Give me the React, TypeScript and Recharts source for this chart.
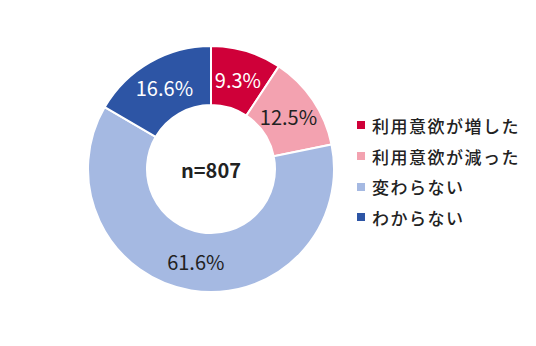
import { PieChart, Pie, Cell, Legend } from "recharts";

const categories = ["利用意欲が増した", "利用意欲が減った", "変わらない", "わからない"];
const shares = [9.3, 12.5, 61.6, 16.6];
const colors = ["#CF0039", "#F3A2B0", "#A5B9E2", "#2D55A5"];
const labelColors = ["#ffffff", "#222222", "#222222", "#ffffff"];
const sampleLabel = "n=807";

const data = categories.map((name, i) => ({ name, value: shares[i] }));

const RAD = Math.PI / 180;

const renderLabel = (props: any) => {
  const { cx, cy, midAngle, innerRadius, outerRadius, index, value } = props;
  const r = (innerRadius + outerRadius) / 2;
  const x = cx + r * Math.cos(-midAngle * RAD);
  const y = cy + r * Math.sin(-midAngle * RAD);
  return (
    <text
      x={x}
      y={y}
      fill={labelColors[index]}
      textAnchor="middle"
      dominantBaseline="central"
      fontSize={20}
      fontFamily="'Noto Sans CJK JP', 'Noto Sans', sans-serif"
    >
      {`${value.toFixed(1)}%`}
    </text>
  );
};

const renderLegend = () => (
  <div style={{ fontFamily: "'Noto Sans CJK JP', sans-serif" }}>
    {categories.map((c, i) => (
      <div key={c} style={{ display: "flex", alignItems: "center", height: 30.7 }}>
        <span style={{ width: 8, height: 8, background: colors[i], marginRight: 7, display: "inline-block" }} />
        <span style={{ fontSize: 17, letterSpacing: 1.5, fontWeight: 500, color: "#222" }}>{c}</span>
      </div>
    ))}
  </div>
);

export default function App() {
  return (
    <div style={{ position: "absolute", left: 0, top: 0, width: 536, height: 346, background: "#fff" }}>
      <PieChart width={536} height={346}>
        {/* chart margin adds 5px, so centre lands at (211, 169) */}
        <Pie
          data={data}
          dataKey="value"
          cx={206}
          cy={164}
          innerRadius={64}
          outerRadius={123}
          startAngle={90}
          endAngle={-270}
          stroke="#ffffff"
          strokeWidth={2}
          label={renderLabel}
          labelLine={false}
          isAnimationActive={false}
        >
          {data.map((_, i) => (
            <Cell key={i} fill={colors[i]} />
          ))}
        </Pie>
        <text
          x={211}
          y={169}
          textAnchor="middle"
          dominantBaseline="central"
          fontSize={20}
          fontWeight="bold"
          fill="#222"
          fontFamily="'Noto Sans CJK JP', 'Noto Sans', sans-serif"
        >
          {sampleLabel}
        </text>
        <Legend
          content={renderLegend}
          wrapperStyle={{ position: "absolute", left: 357, top: 110, width: 180 }}
        />
      </PieChart>
    </div>
  );
}
